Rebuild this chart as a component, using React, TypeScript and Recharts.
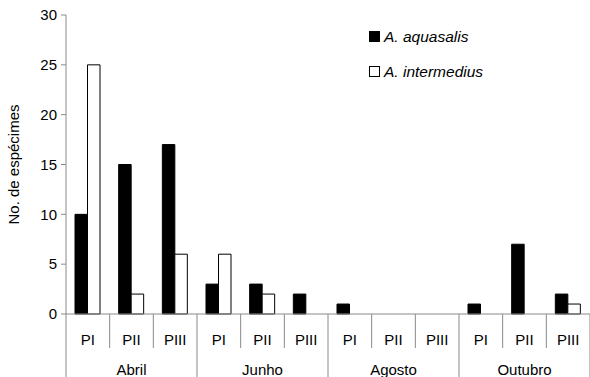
import React from 'react';
import { BarChart, Bar, XAxis, YAxis, Legend } from 'recharts';

const months = ['Abril', 'Junho', 'Agosto', 'Outubro'];
const periods = ['PI', 'PII', 'PIII'];
const aquasalis = [10, 15, 17, 3, 3, 2, 1, 0, 0, 1, 7, 2];
const intermedius = [25, 2, 6, 6, 2, 0, 0, 0, 0, 0, 0, 1];
const yTicks = [0, 5, 10, 15, 20, 25, 30];

const data = months.flatMap((m, mi) =>
  periods.map((p, pi) => ({
    id: `${m}-${p}`,
    month: m,
    period: p,
    aquasalis: aquasalis[mi * 3 + pi],
    intermedius: intermedius[mi * 3 + pi],
  }))
);

const W = 590;
const H = 377;
const MARGIN = { top: 15, right: 0, bottom: 0, left: 0 };
const Y_W = 66;
const X_H = 63;
const BAND = (W - MARGIN.left - MARGIN.right - Y_W) / data.length;
const GREY = '#8a8a8a';
const FONT = '"Liberation Sans", Arial, sans-serif';

const CategoryTick = (props: any) => {
  const { x, y, index } = props;
  const d = data[index];
  if (!d) return null;
  const half = BAND / 2;
  const first = index % 3 === 0;
  const last = index === data.length - 1;
  return (
    <g>
      <line x1={x - half} x2={x - half} y1={y} y2={first ? y + 63 : y + 34} stroke={GREY} />
      {last && <line x1={x + half} x2={x + half} y1={y} y2={y + 63} stroke={GREY} />}
      <text x={x} y={y + 31} textAnchor="middle" fontSize={15} fill="#000" fontFamily={FONT}>
        {d.period}
      </text>
      {index % 3 === 1 && (
        <text x={x} y={y + 61} textAnchor="middle" fontSize={15} fill="#000" fontFamily={FONT}>
          {d.month}
        </text>
      )}
    </g>
  );
};

const LegendBox = ({ payload }: any) => (
  <div style={{ fontFamily: FONT, fontSize: 15.5, fontStyle: 'italic', textAlign: 'left' }}>
    {(payload || []).map((e: any) => (
      <div key={e.value} style={{ display: 'flex', alignItems: 'center', height: 35 }}>
        <span
          style={{
            display: 'inline-block',
            width: 9,
            height: 9,
            background: e.dataKey === 'aquasalis' ? '#000' : '#fff',
            border: '1px solid #000',
            marginRight: 4,
          }}
        />
        {e.value}
      </div>
    ))}
  </div>
);

export default function App() {
  return (
    <div style={{ position: 'absolute', left: 0, top: 0, width: W, height: H, overflow: 'hidden', background: '#fff' }}>
      <BarChart width={W} height={H} data={data} margin={MARGIN} barSize={12.5} barGap={0}>
        <XAxis
          dataKey="id"
          height={X_H}
          interval={0}
          tickLine={false}
          tickSize={0}
          tickMargin={0}
          axisLine={{ stroke: GREY }}
          tick={<CategoryTick />}
        />
        <YAxis
          width={Y_W}
          domain={[0, 30]}
          ticks={yTicks}
          interval={0}
          tickSize={5}
          tickMargin={4}
          axisLine={{ stroke: GREY }}
          tickLine={{ stroke: GREY }}
          tick={{ fontSize: 15, fill: '#000', fontFamily: FONT }}
          label={{
            value: 'No. de espécimes',
            angle: -90,
            position: 'insideLeft',
            offset: 14,
            style: { fontSize: 15, fill: '#000', fontFamily: FONT, textAnchor: 'middle' },
          }}
        />
        <Legend
          layout="vertical"
          verticalAlign="middle"
          align="center"
          content={<LegendBox />}
          wrapperStyle={{ left: 369, top: 19, width: 180, height: 70 }}
        />
        <Bar dataKey="aquasalis" name="A. aquasalis" fill="#000" stroke="#000" strokeWidth={1} isAnimationActive={false} />
        <Bar dataKey="intermedius" name="A. intermedius" fill="#fff" stroke="#000" strokeWidth={1} isAnimationActive={false} />
      </BarChart>
    </div>
  );
}
